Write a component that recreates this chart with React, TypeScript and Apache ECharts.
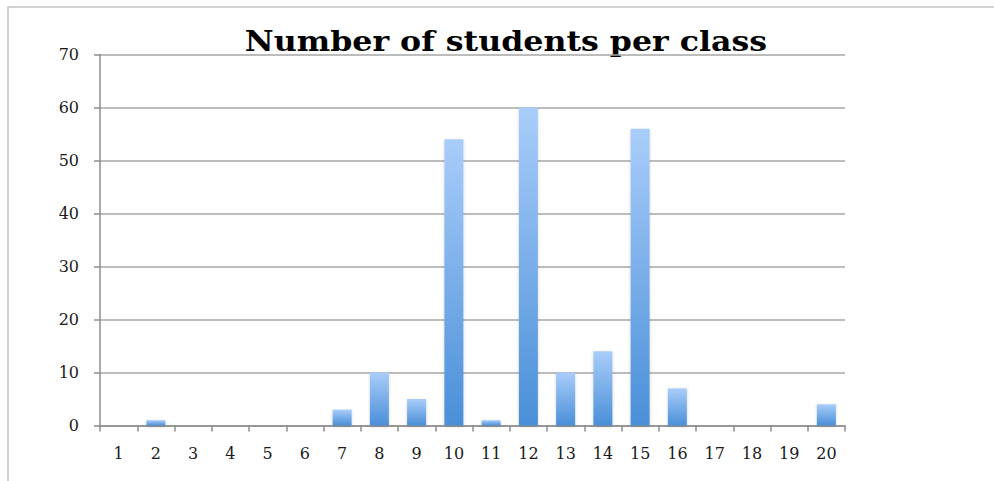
import React, { useEffect, useRef } from "react";
import * as echarts from "echarts";

const categories = ["1","2","3","4","5","6","7","8","9","10","11","12","13","14","15","16","17","18","19","20"];
const students = [0, 1, 0, 0, 0, 0, 3, 10, 5, 54, 1, 60, 10, 14, 56, 7, 0, 0, 0, 4];
const yTicks = { min: 0, max: 70, interval: 10 };
const titleText = "Number of students per class";

export default function App() {
  const ref = useRef<HTMLDivElement>(null);
  useEffect(() => {
    document.body.style.margin = "0";
    const chart = echarts.init(ref.current!, null, { renderer: "svg" });
    chart.setOption({
      animation: false,
      backgroundColor: "#ffffff",
      graphic: [
        {
          type: "rect",
          shape: { x: 8, y: 7, width: 1100, height: 600 },
          style: { fill: "none", stroke: "#c4c4c4", lineWidth: 1.5 },
          silent: true,
        },
        {
          type: "text",
          x: 506,
          y: 41,
          scaleX: 1.13,
          style: {
            text: titleText,
            align: "center",
            verticalAlign: "middle",
            fontFamily: "DejaVu Serif",
            fontWeight: "bold",
            fontSize: 28,
            fill: "#000",
          },
        },
      ],
      grid: { left: 100, right: 149, top: 54.5, bottom: 55.5 },
      xAxis: {
        type: "category",
        data: categories,
        axisLine: { lineStyle: { color: "#8c8c8c", width: 1.5 } },
        axisTick: { show: true, length: 6, lineStyle: { color: "#8c8c8c", width: 1.5 } },
        axisLabel: { color: "#1a1a1a", fontFamily: "DejaVu Serif", fontSize: 16, margin: 20 },
      },
      yAxis: {
        type: "value",
        min: yTicks.min,
        max: yTicks.max,
        interval: yTicks.interval,
        axisLine: { show: true, lineStyle: { color: "#8c8c8c", width: 1.5 } },
        axisTick: { show: true, length: 6, lineStyle: { color: "#8c8c8c", width: 1.5 } },
        splitLine: { lineStyle: { color: "#a6a6a6", width: 1.5 } },
        axisLabel: { color: "#1a1a1a", fontFamily: "DejaVu Serif", fontSize: 16, margin: 21 },
      },
      series: [
        {
          type: "bar",
          data: students,
          barWidth: 19,
          itemStyle: {
            color: new echarts.graphic.LinearGradient(0, 0, 0, 1, [
              { offset: 0, color: "#a9cdfa" },
              { offset: 1, color: "#4a8fd8" },
            ]),
            shadowColor: "rgba(0,0,0,0.18)",
            shadowBlur: 3,
            shadowOffsetY: 1,
          },
        },
      ],
    });
    return () => chart.dispose();
  }, []);
  return <div ref={ref} style={{ position: "absolute", left: 0, top: 0, width: 994, height: 481 }} />;
}
